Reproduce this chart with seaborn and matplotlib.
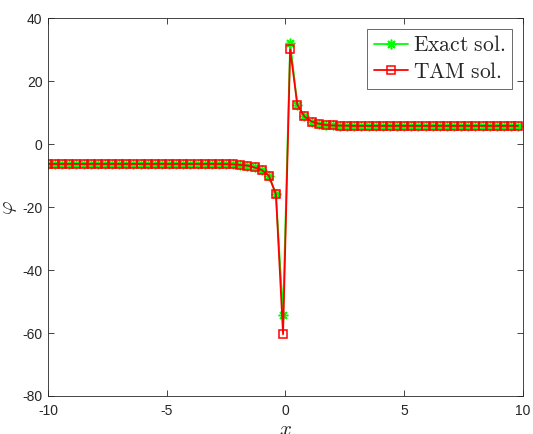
import numpy as np
import pandas as pd
import matplotlib
matplotlib.use("Agg")
import matplotlib.pyplot as plt
import seaborn as sns

# Grid: x = -10 + 0.3 k, k = 0..66
x = np.round(-10 + 0.3 * np.arange(67), 2)

# Left plateau (x = -10 ... -2.8), transition (-2.5 ... -0.4), core (-0.1, 0.2),
# transition (0.5 ... 2.6), right plateau (2.9 ... 9.8)
left_plateau = [-6.3] * 25
left_transition = [-6.35, -6.4, -6.6, -6.8, -7.4, -8.2, -10.0, -15.9]
right_transition = [12.6, 8.8, 7.2, 6.5, 6.1, 5.95, 5.9, 5.85]
right_plateau = [5.8] * 24

exact_core = [-54.2, 32.2]
tam_core = [-60.4, 30.1]

exact = np.array(left_plateau + left_transition + exact_core + right_transition + right_plateau)
tam = np.array(left_plateau + left_transition + tam_core + right_transition + right_plateau)

df = pd.DataFrame({"x": np.concatenate([x, x]),
                   "phi": np.concatenate([exact, tam]),
                   "sol": ["Exact"] * len(x) + ["TAM"] * len(x)})

sns.set_style("white")
plt.rcParams["font.family"] = ["Liberation Sans", "DejaVu Sans"]
plt.rcParams["mathtext.fontset"] = "cm"

fig = plt.figure(figsize=(5.33, 4.34), dpi=100)
ax = fig.add_axes([0.090, 0.0876, 0.891, 0.8703])

asterisk = (8, 2, 0)
sns.lineplot(data=df[df.sol == "Exact"], x="x", y="phi", ax=ax, color="#00ff00",
             linewidth=1.3, marker=asterisk, markersize=7, markeredgecolor="#00ff00",
             markeredgewidth=1.1, label=r"$\mathrm{Exact\ sol.}$")
sns.lineplot(data=df[df.sol == "TAM"], x="x", y="phi", ax=ax, color="#ff0000",
             linewidth=1.3, marker="s", markersize=6, markeredgecolor="#ff0000",
             markerfacecolor="none", markeredgewidth=1.1, label=r"$\mathrm{TAM\ sol.}$")

ax.set_xlim(-10, 10)
ax.set_ylim(-80, 40)
ax.set_xticks([-10, -5, 0, 5, 10])
ax.set_yticks([-80, -60, -40, -20, 0, 20, 40])
ax.set_xticklabels(["-10", "-5", "0", "5", "10"])
ax.set_yticklabels(["-80", "-60", "-40", "-20", "0", "20", "40"])

for s in ax.spines.values():
    s.set_color("#262626")
    s.set_linewidth(0.6)
    s.set_visible(True)
ax.tick_params(direction="in", length=4, width=0.6, color="#262626",
               labelsize=10, labelcolor="#262626", top=True, right=True,
               bottom=True, left=True, labeltop=False, labelright=False)
ax.tick_params(axis="x", pad=6)
ax.tick_params(axis="y", pad=4)

ax.set_xlabel(r"$x$", fontsize=15, labelpad=1)
ax.set_ylabel(r"$\varphi$", fontsize=15, labelpad=2)

leg = ax.legend(loc="upper right", fontsize=15.5, frameon=True, fancybox=False,
                edgecolor="#262626", handlelength=1.6, handletextpad=0.25,
                borderpad=0.3, labelspacing=0.25, borderaxespad=0.5)
leg.get_frame().set_linewidth(0.6)

fig.savefig("out.png", dpi=100, facecolor="white")
